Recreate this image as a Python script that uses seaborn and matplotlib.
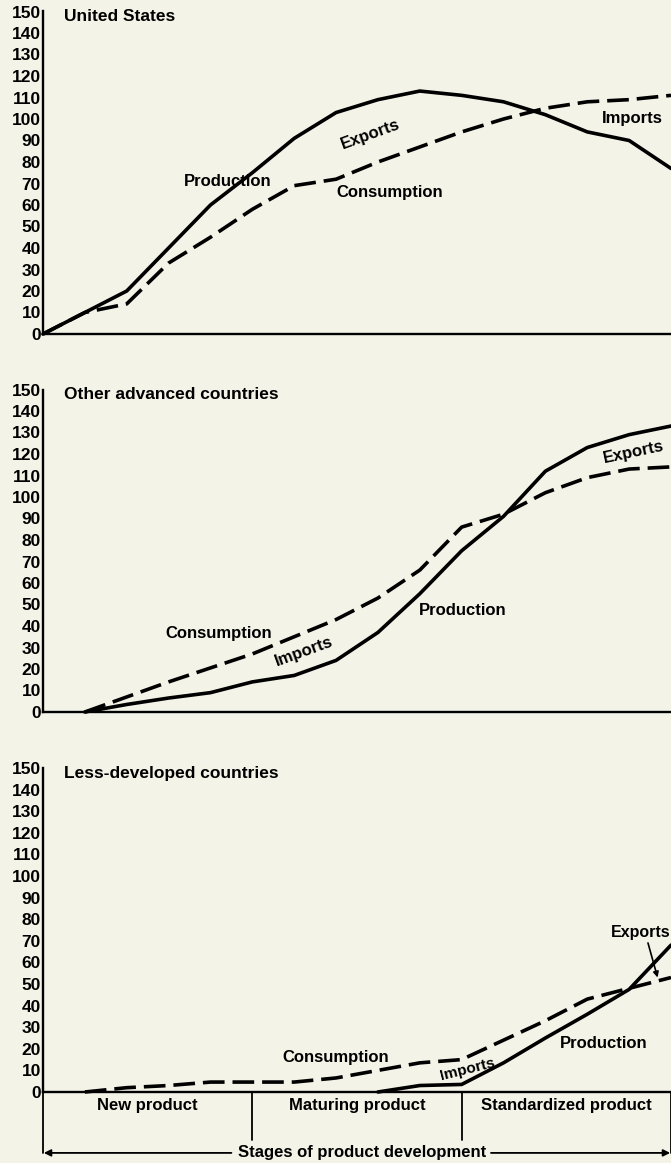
import matplotlib
matplotlib.use("Agg")
import matplotlib.pyplot as plt
import seaborn as sns
import numpy as np
import pandas as pd

# ---------------- data ----------------
stages = list(range(16))

us_x = list(range(16))
us_production = [0, 10, 20, 40, 60, 75, 91, 103, 109, 113, 111, 108, 102, 94, 90, 77]
us_consumption = [0, 10, 14, 33, 45, 58, 69, 72, 80, 87, 94, 100, 105, 108, 109, 111]

adv_x = list(range(1, 16))
adv_production = [0, 3.5, 6.5, 9, 14, 17, 24, 37, 55, 75, 91, 112, 123, 129, 133]
adv_consumption = [0, 7, 14, 20.5, 27, 35, 43, 53, 66, 86, 92, 102, 109, 113, 114]

ldc_cons_x = list(range(1, 16))
ldc_consumption = [0, 2, 3, 4.6, 4.6, 4.6, 6.5, 10, 13.5, 15, 24, 33, 43, 48, 53]
ldc_prod_x = list(range(8, 16))
ldc_production = [0, 3, 3.5, 13.5, 25, 36, 47.5, 68]

yticks = list(range(0, 151, 10))
panel_titles = ["United States", "Other advanced countries", "Less-developed countries"]
stage_names = ["New product", "Maturing product", "Standardized product"]
stage_bounds = [0, 5, 10, 15]
axis_title = "Stages of product development"

# ---------------- style ----------------
BG = "#f3f4e7"
sns.set_style("white")
plt.rcParams["font.family"] = ["Liberation Sans", "DejaVu Sans"]
plt.rcParams["font.weight"] = "bold"
plt.rcParams["text.color"] = "black"
plt.rcParams["ytick.color"] = "black"
plt.rcParams["xtick.color"] = "black"
plt.rcParams["ytick.labelcolor"] = "black"

fig = plt.figure(figsize=(6.71, 11.63), dpi=100, facecolor=BG)
W, H = 671, 1163

def add_axes(y0_px, y150_px):
    left = 43 / W
    bottom = (H - y0_px) / H
    height = (y0_px - y150_px) / H
    ax = fig.add_axes([left, bottom, (671 - 43) / W, height])
    return ax

axes = [add_axes(334, 11.5), add_axes(712, 389.5), add_axes(1092, 768)]

LW = 2.6
DASH = (0, (6.0, 2.2))
FS = 12

def style_ax(ax, title):
    ax.set_facecolor(BG)
    ax.set_xlim(0, 15)
    ax.set_ylim(0, 150)
    ax.set_yticks(yticks)
    ax.set_xticks(stages)
    ax.set_xticklabels([])
    for s in ["top", "right"]:
        ax.spines[s].set_visible(False)
    for s in ["left", "bottom"]:
        ax.spines[s].set_linewidth(1.7)
        ax.spines[s].set_color("black")
    ax.tick_params(axis="y", direction="in", length=4, width=1.5, pad=1.5,
                   labelsize=12.5, colors="black", labelcolor="black")
    ax.tick_params(axis="x", direction="in", length=3.5, width=1.3, colors="black")
    for lab in ax.get_yticklabels():
        lab.set_fontweight("bold")
    ax.set_xlabel("")
    ax.set_ylabel("")
    ax.text(0.5, 147.5, title, fontsize=12.5, fontweight="bold", va="center", ha="left")

# ---- panel 1: United States ----
ax = axes[0]
sns.lineplot(x=us_x, y=us_production, ax=ax, color="black", lw=LW, clip_on=False)
sns.lineplot(x=us_x, y=us_consumption, ax=ax, color="black", lw=LW, linestyle=DASH, clip_on=False)
style_ax(ax, panel_titles[0])
ax.text(4.4, 71, "Production", fontsize=FS, ha="center", va="center", fontweight="bold")
ax.text(7.83, 93, "Exports", fontsize=FS, ha="center", va="center", rotation=20, fontweight="bold")
ax.text(8.27, 66, "Consumption", fontsize=FS, ha="center", va="center", fontweight="bold")
ax.text(14.07, 100, "Imports", fontsize=FS, ha="center", va="center", fontweight="bold")

# ---- panel 2: Other advanced countries ----
ax = axes[1]
sns.lineplot(x=adv_x, y=adv_production, ax=ax, color="black", lw=LW, clip_on=False)
sns.lineplot(x=adv_x, y=adv_consumption, ax=ax, color="black", lw=LW, linestyle=DASH, clip_on=False)
style_ax(ax, panel_titles[1])
ax.text(4.2, 36.5, "Consumption", fontsize=FS, ha="center", va="center", fontweight="bold")
ax.text(6.23, 28, "Imports", fontsize=FS, ha="center", va="center", rotation=20, fontweight="bold")
ax.text(10.03, 47, "Production", fontsize=FS, ha="center", va="center", fontweight="bold")
ax.text(14.1, 121, "Exports", fontsize=FS, ha="center", va="center", rotation=12, fontweight="bold")

# ---- panel 3: Less-developed countries ----
ax = axes[2]
sns.lineplot(x=ldc_prod_x, y=ldc_production, ax=ax, color="black", lw=LW, clip_on=False)
sns.lineplot(x=ldc_cons_x, y=ldc_consumption, ax=ax, color="black", lw=LW, linestyle=DASH, clip_on=False)
style_ax(ax, panel_titles[2])
ax.text(6.99, 16, "Consumption", fontsize=FS, ha="center", va="center", fontweight="bold")
ax.text(10.15, 10.5, "Imports", fontsize=11, ha="center", va="center", rotation=14, fontweight="bold")
ax.text(13.4, 22.5, "Production", fontsize=FS, ha="center", va="center", fontweight="bold")
ax.text(14.98, 74, "Exports", fontsize=11.5, ha="right", va="center", fontweight="bold")
ax.annotate("", xy=(14.68, 53), xytext=(14.45, 69),
            arrowprops=dict(arrowstyle="-|>", color="black", lw=1.2, mutation_scale=8,
                            shrinkA=0, shrinkB=0))

# ---- stage annotations below bottom axis ----
tr = ax.get_xaxis_transform()
y_lab = -0.043
y_div = -0.148
y_arr = -0.188
for i, name in enumerate(stage_names):
    ax.text((stage_bounds[i] + stage_bounds[i + 1]) / 2, y_lab, name, transform=tr,
            fontsize=FS, ha="center", va="center", fontweight="bold")
for b in stage_bounds:
    bottom = y_arr if b in (0, 15) else y_div
    ax.plot([b, b], [0, bottom], transform=tr, color="black", lw=1.3, clip_on=False)
ax.text(7.62, y_arr, axis_title, transform=tr, fontsize=FS, ha="center", va="center",
        fontweight="bold")
ax.annotate("", xy=(0.02, y_arr), xytext=(4.5, y_arr), xycoords=tr, textcoords=tr,
            arrowprops=dict(arrowstyle="-|>", color="black", lw=1.3, mutation_scale=10,
                            shrinkA=0, shrinkB=0))
ax.annotate("", xy=(14.98, y_arr), xytext=(10.7, y_arr), xycoords=tr, textcoords=tr,
            arrowprops=dict(arrowstyle="-|>", color="black", lw=1.3, mutation_scale=10,
                            shrinkA=0, shrinkB=0))

fig.savefig("out.png", dpi=100, facecolor=BG)
